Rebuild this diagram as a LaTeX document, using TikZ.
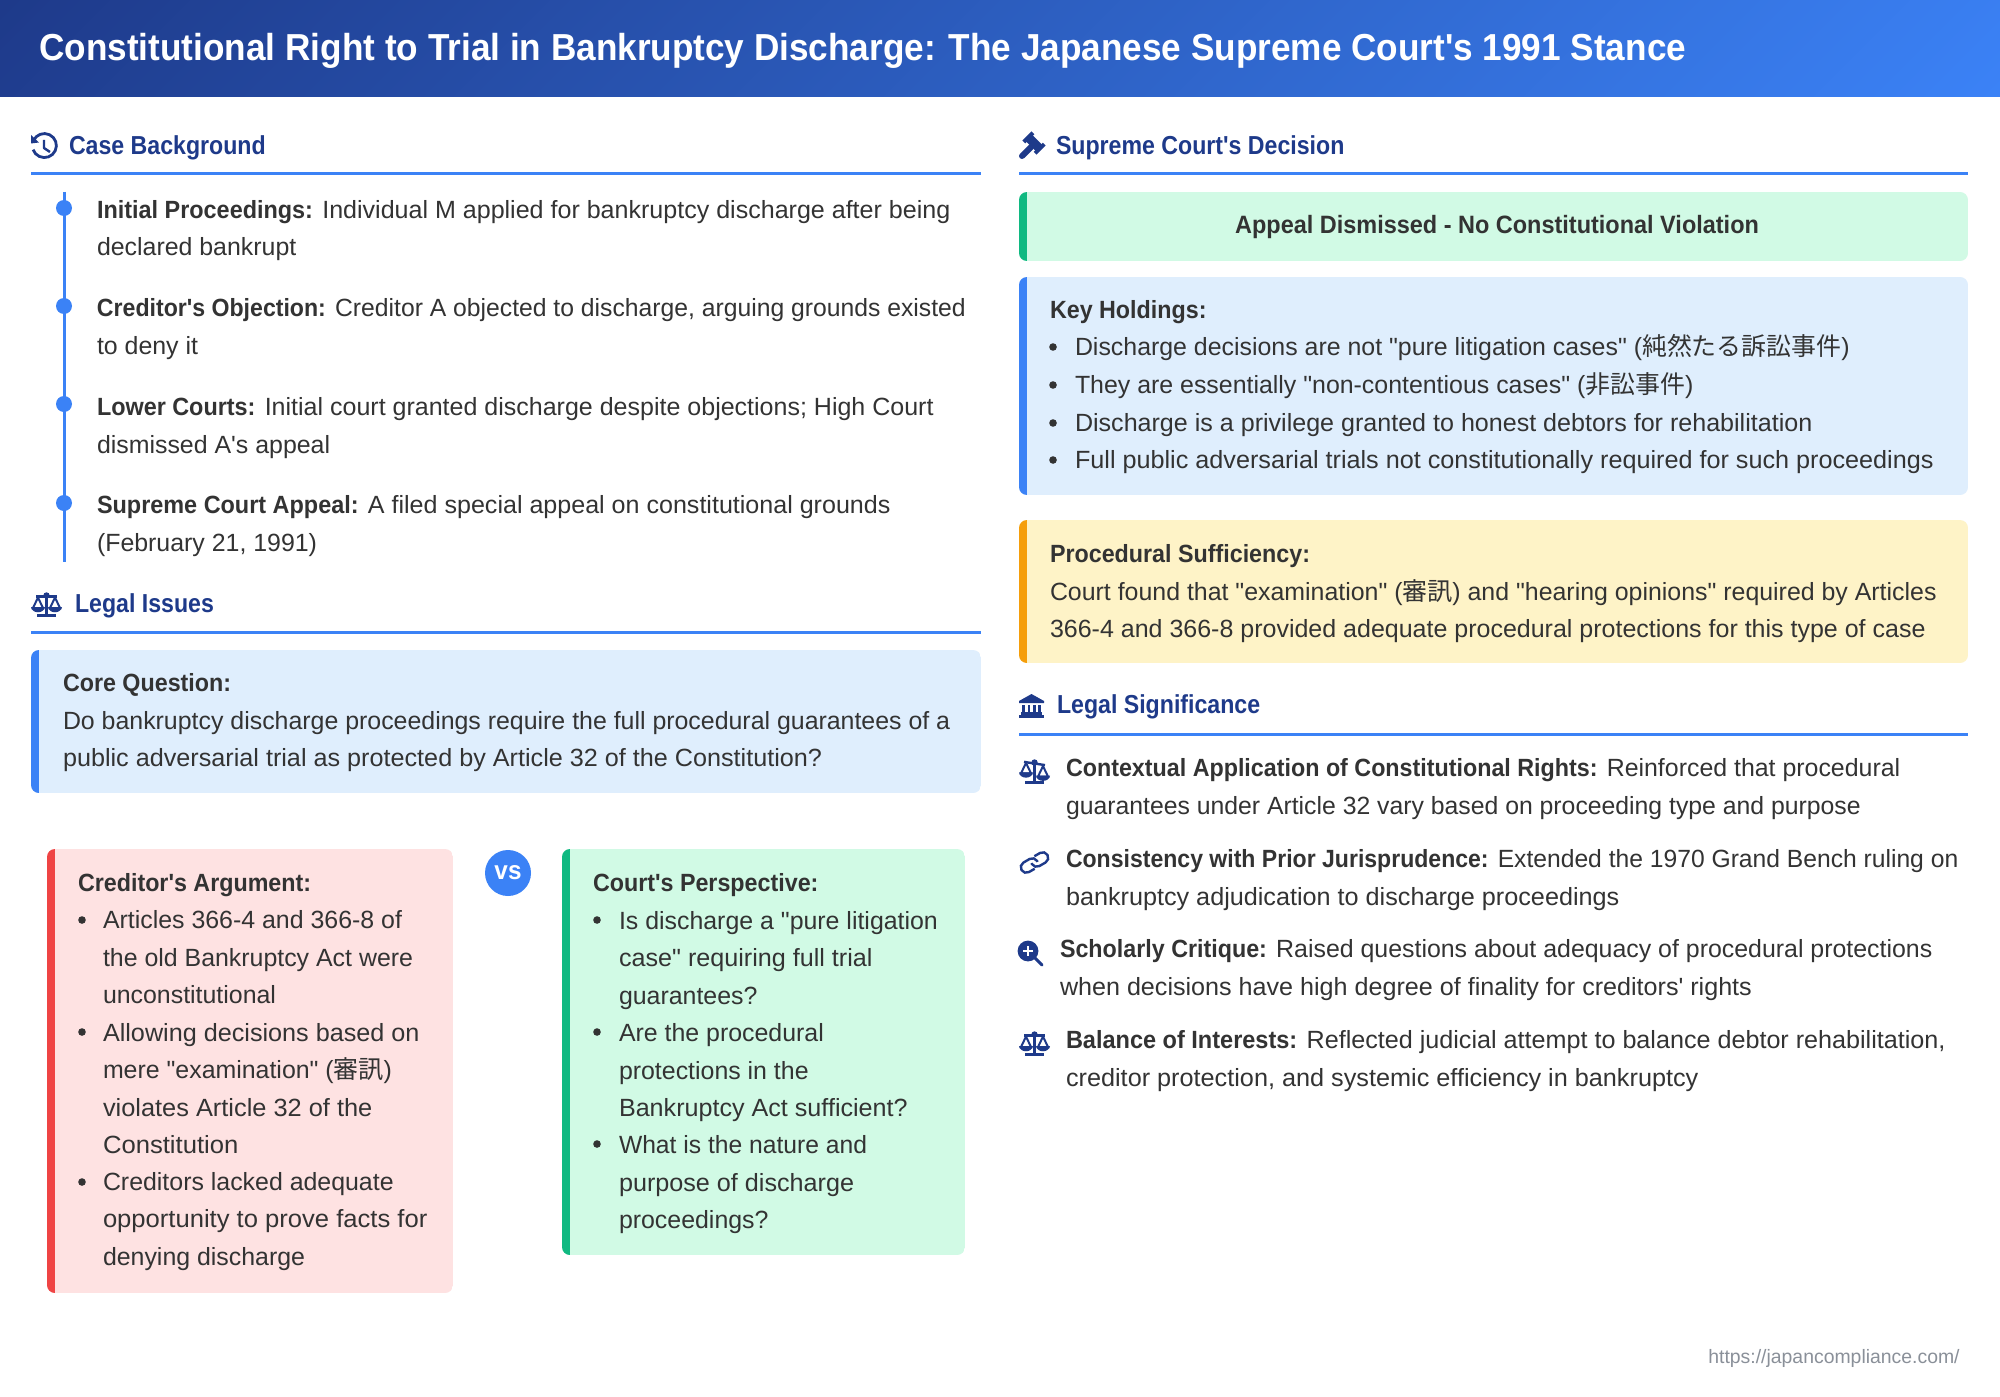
\documentclass[tikz,border=0pt]{standalone}
\usepackage{graphicx}
\usepackage{fontspec}
\newfontfamily\rb[BoldFeatures={FakeStretch=0.935}]{Liberation Sans}
\newfontfamily\rbh[BoldFeatures={FakeStretch=0.89}]{Liberation Sans}
\newfontfamily\cjk{Noto Sans CJK JP}
\newcommand{\fitx}[2]{\scalebox{#1}[1]{#2}}
\definecolor{navy}{HTML}{1E3A8A}
\definecolor{accent}{HTML}{3B82F6}
\definecolor{ink}{HTML}{333333}
\definecolor{blueBg}{HTML}{DFEEFD}
\definecolor{greenBg}{HTML}{D1FAE5}
\definecolor{greenBar}{HTML}{10B981}
\definecolor{redBg}{HTML}{FEE2E2}
\definecolor{redBar}{HTML}{EF4444}
\definecolor{amberBg}{HTML}{FEF3C7}
\definecolor{amberBar}{HTML}{F59E0B}
\definecolor{footGray}{HTML}{8A9099}
\tikzset{
  x=0.5pt,y=-0.5pt,
  txt/.style={anchor=base west,inner sep=0pt,outer sep=0pt,align=left,text=ink,font=\rb\fontsize{12.45}{18.75}\selectfont},
  head/.style={anchor=base west,inner sep=0pt,outer sep=0pt,text=navy,font=\rbh\bfseries\fontsize{13}{16}\selectfont},
  rulex/.style={accent,line width=1.5pt},
  bul/.style={circle,fill=ink,inner sep=0pt,minimum size=3.8pt},
  dotx/.style={circle,fill=accent,inner sep=0pt,minimum size=8pt},
  iconl/.style={draw=navy,fill=none,line width=1.2pt},
}
\newcommand{\panel}[7]{% x1 y1 x2 y2 bg bar barwidth
  \begin{scope}
    \clip[rounded corners=4pt] (#1,#2) rectangle (#3,#4);
    \fill[#5] (#1,#2) rectangle (#3,#4);
    \fill[#6] (#1,#2) rectangle ({#1+#7},#4);
  \end{scope}}
\newcommand{\scaleicon}[3]{% x y tilt
  \begin{scope}[shift={(#1,#2)}]
    \draw[iconl,line width=1.5pt] (15.5,2)--(15.5,22);
    \draw[iconl,line width=1.5pt] (6,22.5)--(25,22.5);
    \draw[iconl] (5,{3.5-#3*0.4})--(26,{3.5+#3*0.4});
    \fill[navy] (15.5,2.5) circle (1.6pt);
    \draw[iconl,line width=1pt] (7,{4.5-#3*0.4})--(2,{15-#3*0.4})--(12,{15-#3*0.4})--cycle;
    \fill[navy] (0,{14-#3*0.4}) .. controls (1,{21-#3*0.4}) and (13,{21-#3*0.4}) .. (14,{14-#3*0.4})--cycle;
    \draw[iconl,line width=1pt] (24,{4.5+#3*0.4})--(19,{15+#3*0.4})--(29,{15+#3*0.4})--cycle;
    \fill[navy] (17,{14+#3*0.4}) .. controls (18,{21+#3*0.4}) and (30,{21+#3*0.4}) .. (31,{14+#3*0.4})--cycle;
  \end{scope}}
\begin{document}
\begin{tikzpicture}
\useasboundingbox (0,0) rectangle (2000,1396);
\fill[white] (0,0) rectangle (2000,1396);
% header gradient (135 degrees)
\begin{scope}
  \clip (0,0) rectangle (2000,97);
  \fill[navy] (0,0) rectangle (2000,97);
  \foreach \i in {1,...,209}{
    \pgfmathsetmacro{\p}{\i/2.09}
    \pgfmathsetmacro{\xa}{\i*10}
    \fill[accent!\p!navy] (\xa,0) -- (2100,0) -- (2100,97) -- ({\xa-97},97) -- cycle;
  }
\end{scope}
\node[anchor=base west,inner sep=0pt,text=white,font=\rb\bfseries\fontsize{18.8}{22}\selectfont] (title) at (39,61) {Constitutional Right to Trial in Bankruptcy Discharge: The Japanese Supreme Court's 1991 Stance};

% ---------- Case Background
\begin{scope}[shift={(31,134)}]
  \draw[iconl,line width=1.4pt] (2.5,6.5) arc[start angle=155,end angle=-160,radius=6pt];
  \fill[navy] (0,1) -- (8,8.5) -- (0,9.5) -- cycle;
  \draw[iconl,line width=1.2pt,line join=round] (13,6)--(13,14)--(19,18);
\end{scope}
\node[head] (hCase) at (69,155) {Case Background};
\coordinate (r1a) at (31,174); \coordinate (r1b) at (981,174);
\draw[rulex] (r1a)--(r1b);

\coordinate (tlTop) at (64,192); \coordinate (tlBot) at (64,562);
\draw[accent,line width=1.5pt] (tlTop)--(tlBot);
\node[dotx] (d1) at (64,208) {};
\node[dotx] (d2) at (64,306) {};
\node[dotx] (d3) at (64,404) {};
\node[dotx] (d4) at (64,503) {};
\node[txt] (t1) at (97,256) {\fitx{1.006}{\textbf{Initial Proceedings:} Individual M applied for bankruptcy discharge after being}\\declared bankrupt};
\node[txt] (t2) at (97,354) {\fitx{0.9927}{\textbf{Creditor's Objection:} Creditor A objected to discharge, arguing grounds existed}\\to deny it};
\node[txt] (t3) at (97,453) {\fitx{1.0046}{\textbf{Lower Courts:} Initial court granted discharge despite objections; High Court}\\dismissed A's appeal};
\node[txt] (t4) at (97,551) {\fitx{1.0065}{\textbf{Supreme Court Appeal:} A filed special appeal on constitutional grounds}\\(February 21, 1991)};

% ---------- Legal Issues
\scaleicon{31}{593}{0}
\node[head] (hIssues) at (75,612) {Legal Issues};
\coordinate (r2a) at (31,632); \coordinate (r2b) at (981,632);
\draw[rulex] (r2a)--(r2b);
\panel{31}{650}{981}{793}{blueBg}{accent}{8}
\node[txt] (core) at (63,766.5) {\textbf{Core Question:}\\Do bankruptcy discharge proceedings require the full procedural guarantees of a\\\fitx{1.0119}{public adversarial trial as protected by Article 32 of the Constitution?}};

% ---------- Creditor
\panel{47}{849}{453}{1293}{redBg}{redBar}{8}
\node[txt] (credH) at (78,891) {\textbf{Creditor's Argument:}};
\node[bul] (cb1) at (82,920) {};
\node[txt] (cr1) at (103,1003.5) {Articles 366-4 and 366-8 of\\the old Bankruptcy Act were\\unconstitutional};
\node[bul] (cb2) at (82,1032) {};
\node[txt] (cr2) at (103,1153.5) {\fitx{1.012}{Allowing decisions based on}\\mere "examination" ({\cjk 審訊})\\\fitx{1.019}{violates Article 32 of the}\\\fitx{1.03}{Constitution}};
\node[bul] (cb3) at (82,1182) {};
\node[txt] (cr3) at (103,1265) {Creditors lacked adequate\\\fitx{1.028}{opportunity to prove facts for}\\denying discharge};

% ---------- VS
\node[circle,fill=accent,inner sep=0pt,minimum size=23pt,text=white,font=\rb\bfseries\fontsize{13}{14}\selectfont] (vs) at (508,873) {vs};

% ---------- Court
\panel{562}{849}{965}{1255}{greenBg}{greenBar}{8}
\node[txt] (courtH) at (593,891) {\textbf{Court's Perspective:}};
\node[bul] (gb1) at (597,920) {};
\node[txt] (ct1) at (619,1004) {Is discharge a "pure litigation\\\fitx{1.01}{case" requiring full trial}\\guarantees?};
\node[bul] (gb2) at (597,1032) {};
\node[txt] (ct2) at (619,1116.5) {Are the procedural\\protections in the\\\fitx{1.009}{Bankruptcy Act sufficient?}};
\node[bul] (gb3) at (597,1144) {};
\node[txt] (ct3) at (619,1228.5) {\fitx{0.99}{What is the nature and}\\\fitx{1.011}{purpose of discharge}\\proceedings?};

% ---------- Supreme Court's Decision
\begin{scope}[shift={(1019,135)}]
  \draw[navy,line width=3pt,line cap=round] (3,21)--(12,12);
  \fill[navy,rotate around={-45:(15,8)}] (8,3.5) rectangle (22,12.5);
  \fill[navy,rotate around={-45:(15,8)}] (5,1.5) rectangle (9,14.5);
  \fill[navy,rotate around={-45:(15,8)}] (21,1.5) rectangle (25,14.5);
\end{scope}
\node[head] (hDec) at (1056,155) {Supreme Court's Decision};
\coordinate (r3a) at (1019,174); \coordinate (r3b) at (1968,174);
\draw[rulex] (r3a)--(r3b);
\panel{1019}{192}{1968}{261}{greenBg}{greenBar}{8}
\node[anchor=base,inner sep=0pt,text=ink,font=\rb\bfseries\fontsize{12.55}{18.8}\selectfont] (appeal) at (1497,234) {Appeal Dismissed - No Constitutional Violation};

\panel{1019}{277}{1968}{495}{blueBg}{accent}{8}
\node[txt] (keyH) at (1050,318) {\textbf{Key Holdings:}};
\node[bul] (kb1) at (1053,347) {};
\node[txt] (k1) at (1075,355.5) {Discharge decisions are not "pure litigation cases" ({\cjk 純然たる訴訟事件})};
\node[bul] (kb2) at (1053,385) {};
\node[txt] (k2) at (1075,393.5) {They are essentially "non-contentious cases" ({\cjk 非訟事件})};
\node[bul] (kb3) at (1053,423) {};
\node[txt] (k3) at (1075,431) {\fitx{1.007}{Discharge is a privilege granted to honest debtors for rehabilitation}};
\node[bul] (kb4) at (1053,460) {};
\node[txt] (k4) at (1075,468.5) {\fitx{1.012}{Full public adversarial trials not constitutionally required for such proceedings}};

\panel{1019}{520}{1968}{663}{amberBg}{amberBar}{8}
\node[txt] (proc) at (1050,637.5) {\textbf{Procedural Sufficiency:}\\Court found that "examination" ({\cjk 審訊}) and "hearing opinions" required by Articles\\\fitx{1.004}{366-4 and 366-8 provided adequate procedural protections for this type of case}};

% ---------- Legal Significance
\begin{scope}[shift={(1019,694)}]
  \fill[navy] (12.5,0) -- (25,7) -- (25,9) -- (0,9) -- (0,7) -- cycle;
  \foreach \cx in {4.5,9.7,15.3,20.5}{\fill[navy] ({\cx-1.2},10.5) rectangle ({\cx+1.2},18);}
  \fill[navy] (2,18) rectangle (23,20.5);
  \fill[navy] (0,21) rectangle (25,24);
\end{scope}
\node[head] (hSig) at (1057,713) {Legal Significance};
\coordinate (r4a) at (1019,734); \coordinate (r4b) at (1968,734);
\draw[rulex] (r4a)--(r4b);

\scaleicon{1019}{760}{4}
\node[txt] (s1) at (1066,814) {\textbf{Contextual Application of Constitutional Rights:} Reinforced that procedural\\\fitx{0.995}{guarantees under Article 32 vary based on proceeding type and purpose}};
\begin{scope}[shift={(1034.5,862.5)},rotate=30]
  \draw[iconl,rounded corners=2.7pt] (-3,5.5) -- (-15,5.5) -- (-15,-5.5) -- (3,-5.5) -- (3,1);
  \draw[iconl,rounded corners=2.7pt] (3,-5.5) -- (15,-5.5) -- (15,5.5) -- (-3,5.5) -- (-3,-1);
\end{scope}
\node[txt] (s2) at (1066,905) {\fitx{0.99}{\textbf{Consistency with Prior Jurisprudence:} Extended the 1970 Grand Bench ruling on}\\\fitx{1.012}{bankruptcy adjudication to discharge proceedings}};
\begin{scope}[shift={(1028,951)}]
  \draw[navy,line width=1.5pt,line cap=round] (7,7)--(14,14);
  \fill[navy] (0,0) circle (5.2pt);
  \draw[white,line width=1pt] (-5,0)--(5,0) (0,-5)--(0,5);
\end{scope}
\node[txt] (s3) at (1060,995) {\textbf{Scholarly Critique:} Raised questions about adequacy of procedural protections\\\fitx{1.009}{when decisions have high degree of finality for creditors' rights}};
\scaleicon{1019}{1032}{0}
\node[txt] (s4) at (1066,1086) {\fitx{1.01}{\textbf{Balance of Interests:} Reflected judicial attempt to balance debtor rehabilitation,}\\\fitx{1.014}{creditor protection, and systemic efficiency in bankruptcy}};

\node[anchor=base east,inner sep=0pt,text=footGray,font=\rb\fontsize{9.7}{12}\selectfont] (foot) at (1960,1363) {https://japancompliance.com/};
\end{tikzpicture}
\end{document}
